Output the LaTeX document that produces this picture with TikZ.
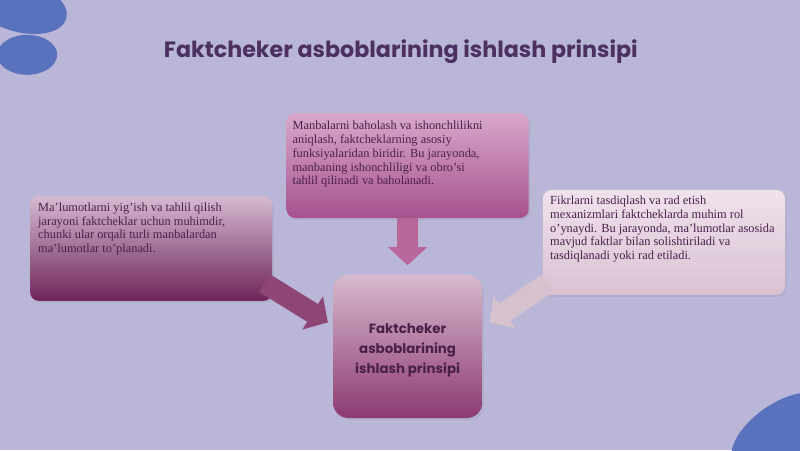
\documentclass[tikz,border=0pt]{standalone}
\usepackage{fontspec}
\setmainfont{Liberation Serif}
\newfontfamily\titlefont{Poppins}
\usetikzlibrary{positioning}
\usetikzlibrary{arrows.meta}
\usetikzlibrary{shadows}
\definecolor{bgLavender}{HTML}{B9B6D7}
\definecolor{blobBlue}{HTML}{5A72BE}
\definecolor{titlePurple}{HTML}{4B3060}
\definecolor{textPurple}{HTML}{4A2049}

\begin{document}
\begin{tikzpicture}[
    panel/.style={rounded corners=6pt, minimum width=6.05cm, minimum height=2.62cm,
        drop shadow={opacity=0.15, shadow xshift=0.04cm, shadow yshift=-0.05cm}},
    paneltext/.style={anchor=north west, align=left, inner sep=0pt, text=textPurple,
        font=\fontsize{8.8}{9.8}\selectfont},
    flow/.style={line width=0.52cm, -{Triangle[width=0.95cm,length=0.45cm]}}
]
    \useasboundingbox (0,0) rectangle (20,11.25);
    \fill[bgLavender] (0,0) rectangle (20,11.25);
    \fill[blobBlue, rotate around={-15:(0.5,11.1)}] (0.5,11.1) ellipse (1.2cm and 0.65cm);
    \fill[blobBlue] (0.68,9.88) ellipse (0.75cm and 0.5cm);
    \fill[blobBlue, rotate around={35:(19.5,0.45)}] (19.5,0.45) ellipse (1.4cm and 0.7cm);

    \node[text=titlePurple, font=\titlefont\bfseries\fontsize{15.8}{18}\selectfont] (title) at (10.02,9.95)
        {Faktcheker asboblarining ishlash prinsipi};

    \draw[flow, color={rgb,255:red,184;green,103;blue,154}]
        ([yshift=0.1cm]10.19,5.8) -- (10.19,4.62);

    \node[panel, top color={rgb,255:red,217;green,168;blue,203}, bottom color={rgb,255:red,166;green,82;blue,142}]
        (topbox) at (10.19,7.11) {};
    \node[paneltext] (toptext) at ([shift={(0.15,-0.2)}]topbox.north west)
        {Manbalarni baholash va ishonchlilikni\\
         aniqlash, faktcheklarning asosiy\\
         funksiyalaridan biridir. Bu jarayonda,\\
         manbaning ishonchliligi va obro'si\\
         tahlil qilinadi va baholanadi.};

    \node[panel, top color={rgb,255:red,214;green,186;blue,210}, bottom color={rgb,255:red,110;green,36;blue,89}]
        (leftbox) at (3.78,5.04) {};
    \node[paneltext] (lefttext) at ([shift={(0.2,-0.17)}]leftbox.north west)
        {Ma'lumotlarni yig'ish va tahlil qilish\\
         jarayoni faktcheklar uchun muhimdir,\\
         chunki ular orqali turli manbalardan\\
         ma'lumotlar to'planadi.};

    \node[panel, top color={rgb,255:red,240;green,226;blue,236}, bottom color={rgb,255:red,216;green,194;blue,210}]
        (rightbox) at (16.6,5.19) {};
    \node[paneltext] (righttext) at ([shift={(0.18,-0.15)}]rightbox.north west)
        {Fikrlarni tasdiqlash va rad etish\\
         mexanizmlari faktcheklarda muhim rol\\
         o'ynaydi. Bu jarayonda, ma'lumotlar asosida\\
         mavjud faktlar bilan solishtiriladi va\\
         tasdiqlanadi yoki rad etiladi.};

    \node[rounded corners=11pt, minimum width=3.73cm, minimum height=3.58cm,
        top color={rgb,255:red,216;green,186;blue,206}, bottom color={rgb,255:red,140;green,58;blue,114},
        drop shadow={opacity=0.15, shadow xshift=0.04cm, shadow yshift=-0.05cm}]
        (center) at (10.19,2.59) {};
    \node[align=center, text=textPurple, font=\titlefont\bfseries\fontsize{9.5}{14}\selectfont] (centertext)
        at ([yshift=-0.1cm]center.center) {Faktcheker\\ asboblarining\\ ishlash prinsipi};

    \draw[flow, color={rgb,255:red,142;green,70;blue,119}]
        ([shift={(-0.2,0.45)}]leftbox.south east) -- ([shift={(-0.12,0.6)}]center.west);
    \draw[flow, color={rgb,255:red,214;green,194;blue,206}]
        ([shift={(0.12,0.3)}]rightbox.south west) -- ([shift={(0.18,0.6)}]center.east);
\end{tikzpicture}
\end{document}
